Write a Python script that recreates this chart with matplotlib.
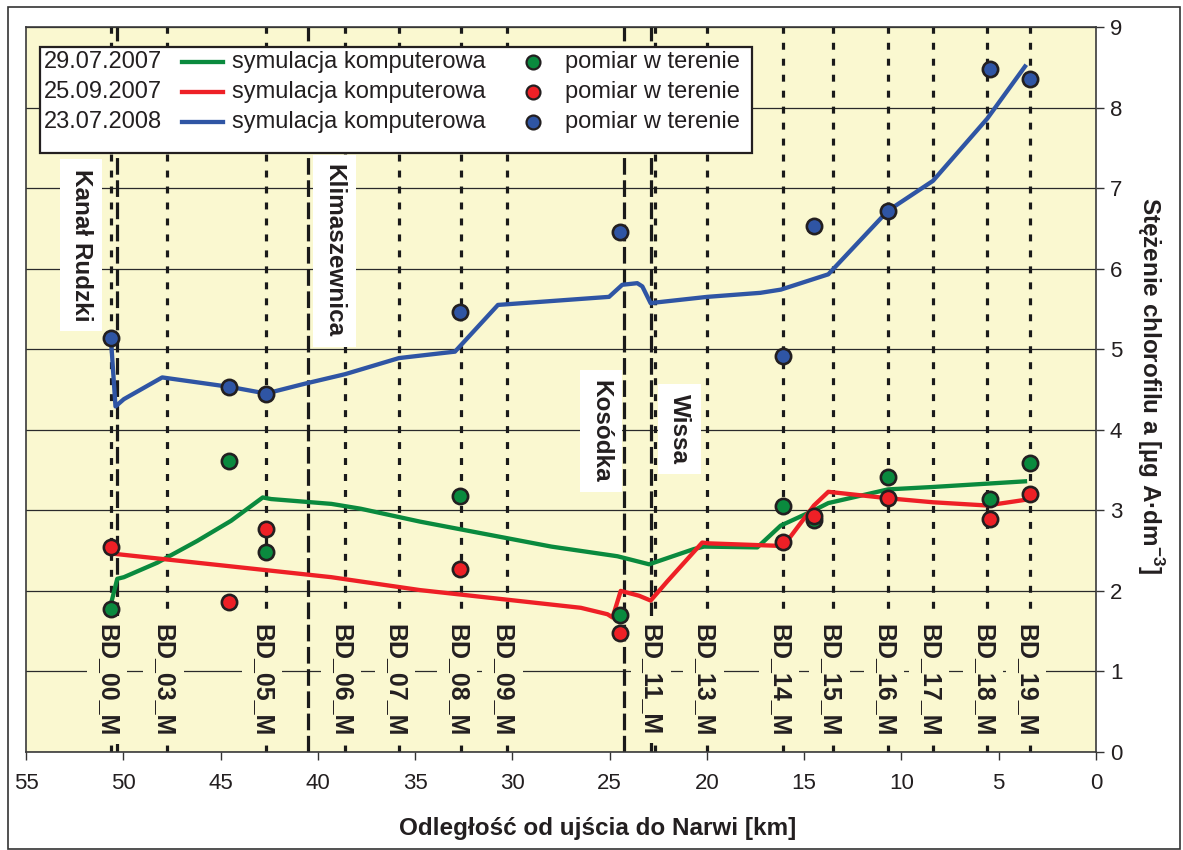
import matplotlib
matplotlib.use('Agg')
import matplotlib.pyplot as plt
from matplotlib.lines import Line2D
from matplotlib.patches import Rectangle
import matplotlib.transforms as mtransforms

plt.rcParams['font.family'] = ['Liberation Sans', 'DejaVu Sans']
plt.rcParams['mathtext.fontset'] = 'custom'
plt.rcParams['mathtext.rm'] = 'Liberation Sans'
plt.rcParams['mathtext.bf'] = 'Liberation Sans:bold'
plt.rcParams['lines.scale_dashes'] = False

# ---------------- data ----------------
stations = ['BD_00_M', 'BD_03_M', 'BD_05_M', 'BD_06_M', 'BD_07_M', 'BD_08_M', 'BD_09_M',
            'BD_11_M', 'BD_13_M', 'BD_14_M', 'BD_15_M', 'BD_16_M', 'BD_17_M', 'BD_18_M', 'BD_19_M']
station_km = [50.62, 47.73, 42.66, 38.60, 35.83, 32.64, 30.30,
              22.68, 19.98, 16.09, 13.50, 10.69, 8.38, 5.60, 3.39]

tributaries = ['Kanał Rudzki', 'Klimaszewnica', 'Kosódka', 'Wissa']
trib_km = [50.31, 40.49, 24.26, 22.85]

dates = ['29.07.2007', '25.09.2007', '23.07.2008']

meas_km = [50.62, 44.55, 42.66, 32.70, 24.46, 16.09, 14.50, 10.69, 5.47, 3.39]
meas_2007_07 = [1.78, 3.61, 2.48, 3.18, 1.70, 3.05, 2.88, 3.41, 3.14, 3.59]
meas_2007_09 = [2.55, 1.86, 2.77, 2.27, 1.48, 2.61, 2.93, 3.15, 2.89, 3.20]
meas_2008_07 = [5.14, 4.53, 4.45, 5.46, 6.46, 4.92, 6.53, 6.72, 8.48, 8.36]

sim_km_2007_07 = [50.62, 50.31, 49.97, 48.25, 46.2, 44.46, 42.83, 42.40, 39.3, 37.8, 34.75,
                  28.0, 24.6, 22.97, 20.66, 20.15, 17.41, 16.21, 14.5, 13.76, 10.69, 8.38, 3.65]
sim_2007_07 = [1.85, 2.15, 2.17, 2.35, 2.62, 2.87, 3.16, 3.14, 3.08, 3.02, 2.86,
               2.55, 2.43, 2.33, 2.52, 2.55, 2.54, 2.81, 3.00, 3.09, 3.26, 3.29, 3.36]

sim_km_2007_09 = [50.45, 39.3, 34.75, 26.48, 25.11, 24.85, 24.43, 23.49, 22.89, 22.03, 20.24,
                  19.9, 16.4, 16.09, 14.5, 13.76, 10.69, 8.38, 5.60, 3.65]
sim_2007_09 = [2.46, 2.17, 2.01, 1.79, 1.71, 1.67, 2.00, 1.94, 1.88, 2.12, 2.60,
               2.59, 2.56, 2.55, 3.06, 3.23, 3.15, 3.10, 3.06, 3.13]

sim_km_2008_07 = [50.62, 50.40, 49.97, 48.00, 44.46, 42.66, 40.70, 38.60, 35.83, 32.95, 30.74,
                  25.03, 24.35, 23.58, 23.32, 22.89, 22.63, 19.98, 17.25, 16.20, 13.76, 10.69,
                  8.38, 5.60, 3.65]
sim_2008_07 = [5.08, 4.29, 4.38, 4.65, 4.53, 4.45, 4.57, 4.69, 4.89, 4.97, 5.55,
               5.65, 5.80, 5.82, 5.78, 5.57, 5.58, 5.65, 5.70, 5.74, 5.93, 6.72,
               7.09, 7.86, 8.51]

x_ticks = [55, 50, 45, 40, 35, 30, 25, 20, 15, 10, 5, 0]
y_ticks = [0, 1, 2, 3, 4, 5, 6, 7, 8, 9]

# ---------------- style ----------------
GREEN = '#0A8A3E'
RED = '#EE2026'
BLUE = '#2F55A4'
DARK = '#231F20'
BG = '#FAF8D0'

W, H = 1183, 850
fig = plt.figure(figsize=(W / 100, H / 100), dpi=100)
ax = fig.add_axes([26 / W, 98 / H, 1070 / W, 725 / H])
ax.set_facecolor(BG)
ax.set_xlim(55, 0)
ax.set_ylim(0, 9)

ax.set_xticks(x_ticks)
ax.set_xticklabels([str(v) for v in x_ticks])
ax.set_yticks(y_ticks)
ax.set_yticklabels([str(v) for v in y_ticks])
ax.yaxis.tick_right()
ax.tick_params(axis='x', direction='out', length=6, width=1, color='#333333',
               labelsize=16, pad=9, labelcolor=DARK)
ax.tick_params(axis='y', direction='out', length=6, width=1, color='#333333',
               labelsize=16, pad=4, labelcolor=DARK)
ax.yaxis.grid(True, color='#2a2a2a', lw=0.9)
ax.set_axisbelow(True)
for sp in ax.spines.values():
    sp.set_color('#3a3a3a')
    sp.set_linewidth(1.2)

# reference vertical lines
for km in station_km:
    ax.axvline(km, color='#1a1a1a', lw=2.3, ls=(0, (5, 6.5)), zorder=1.5)
for km in trib_km:
    ax.axvline(km, color='#1a1a1a', lw=2.3, ls=(0, (12, 4)), zorder=1.6)

# station labels
blend = mtransforms.blended_transform_factory(ax.transData, ax.transAxes)
st_trans = mtransforms.offset_copy(blend, fig=fig, x=-4, y=0, units='dots')
for km, name in zip(station_km, stations):
    ax.text(km, 0.1766, name, transform=st_trans, rotation=270, ha='center', va='top',
            fontsize=18, fontweight='bold', color=DARK, zorder=3,
            bbox=dict(boxstyle='square,pad=0.33', fc=BG, ec='none'))

# tributary labels
trib_dx = [-36, 26, -23, 28]
trib_y = [0.699, 0.691, 0.443, 0.4455]
for km, name, dx, yy in zip(trib_km, tributaries, trib_dx, trib_y):
    tr = mtransforms.offset_copy(blend, fig=fig, x=dx, y=0, units='dots')
    ax.text(km, yy, name, transform=tr, rotation=270, ha='center', va='center',
            fontsize=17.5, fontweight='bold', color=DARK, zorder=3,
            bbox=dict(boxstyle='square,pad=0.4', fc='white', ec='none'))

# simulations
ax.plot(sim_km_2007_07, sim_2007_07, color=GREEN, lw=3.1, zorder=4, solid_joinstyle='round')
ax.plot(sim_km_2007_09, sim_2007_09, color=RED, lw=3.1, zorder=4, solid_joinstyle='round')
ax.plot(sim_km_2008_07, sim_2008_07, color=BLUE, lw=3.1, zorder=4, solid_joinstyle='round')

# measurements
mk = dict(marker='o', ls='none', ms=11, mec=DARK, mew=1.9, zorder=5)
ax.plot(meas_km, meas_2008_07, mfc=BLUE, **mk)
ax.plot(meas_km, meas_2007_07, mfc=GREEN, **mk)
ax.plot(meas_km, meas_2007_09, mfc=RED, **mk)

# legend (manual)
ax.add_patch(Rectangle((0.0131, 0.8262), 0.6654, 0.1462, transform=ax.transAxes,
                       fc='white', ec=DARK, lw=1.6, zorder=6))
row_y = [0.9517, 0.9103, 0.8690]
for d, c, yy in zip(dates, [GREEN, RED, BLUE], row_y):
    ax.text(0.0168, yy, d, transform=ax.transAxes, fontsize=17, color=DARK,
            ha='left', va='center', zorder=7)
    ax.add_line(Line2D([0.1458, 0.1841], [yy, yy], transform=ax.transAxes,
                       color=c, lw=3.1, zorder=7))
    ax.text(0.1925, yy, 'symulacja komputerowa', transform=ax.transAxes, fontsize=17,
            color=DARK, ha='left', va='center', zorder=7)
    ax.add_line(Line2D([0.4738], [yy], transform=ax.transAxes, marker='o', ls='none',
                       ms=10, mfc=c, mec=DARK, mew=1.6, zorder=7))
    ax.text(0.5037, yy, 'pomiar w terenie', transform=ax.transAxes, fontsize=17,
            color=DARK, ha='left', va='center', zorder=7)

# axis labels
ax.set_xlabel('Odległość od ujścia do Narwi [km]', fontsize=17.5, fontweight='bold', color=DARK)
ax.xaxis.set_label_coords(0.5346, -0.089)
ax.yaxis.set_label_position('right')
ax.set_ylabel(r'Stężenie chlorofilu a [µg A·dm$^{\mathbf{-3}}$]', fontsize=17.5,
              fontweight='bold', color=DARK, rotation=270, va='center')
ax.yaxis.set_label_coords(1.0505, 0.506)

# outer frame
fig.add_artist(Rectangle((8 / W, 1 / H), 1172 / W, 842 / H, transform=fig.transFigure,
                         fc='none', ec='#333333', lw=1.2))

fig.savefig('out.png', dpi=100)
